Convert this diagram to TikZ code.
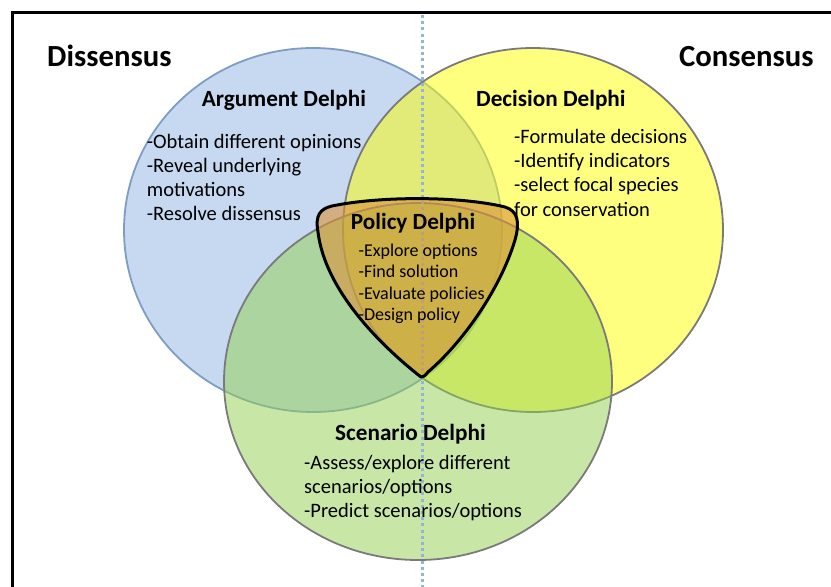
\documentclass[tikz,border=0pt]{standalone}
\usepackage{fontspec}
\setmainfont{Carlito}
\definecolor{cblue}{HTML}{8DB3E2}
\definecolor{cbluedraw}{HTML}{7E9CC6}
\definecolor{cyel}{HTML}{FFFF00}
\definecolor{cgreen}{HTML}{92D050}
\definecolor{cgray}{HTML}{7A7A7A}
\definecolor{cpol}{HTML}{DC9238}
\definecolor{cdot}{HTML}{95B3D7}
\tikzset{
  title/.style={font=\fontsize{30.7}{36}\selectfont\bfseries, anchor=base west, inner sep=0pt},
  head/.style={font=\fontsize{23.2}{28}\selectfont\bfseries, anchor=base west, inner sep=0pt},
  body/.style={font=\fontsize{20.5}{24.5}\selectfont, anchor=base west, inner sep=0pt},
  pbody/.style={font=\fontsize{18}{21.5}\selectfont, anchor=base west, inner sep=0pt},
  venn/.style={fill opacity=0.5, line width=1.8pt},
}
\begin{document}
\begin{tikzpicture}[x=1pt,y=-1pt]
\useasboundingbox (0,0) rectangle (831,587);
% circles
\path[venn, fill=cblue, draw=cbluedraw] (313,230) ellipse [x radius=189pt, y radius=182pt];
\path[venn, fill=cyel, draw=cgray] (533,230) ellipse [x radius=190pt, y radius=182pt];
\path[venn, fill=cgreen, draw=cgray] (418,381.5) ellipse [x radius=194pt, y radius=178.5pt];
% dotted divider
\coordinate (dtop) at (422,15);
\coordinate (dbot) at (422,587);
\draw[cdot, line width=3pt, dash pattern=on 3pt off 3.2pt] (dtop) -- (dbot);
% policy shape
\path[fill=cpol, fill opacity=0.6, draw=black, line width=3pt, line join=round]
  (421,377) .. controls (380,345) and (325,290) .. (318,232)
  .. controls (315,215) and (320,209) .. (332,206)
  .. controls (380,196) and (460,196) .. (505,207)
  .. controls (518,211) and (520,222) .. (515,240)
  .. controls (500,290) and (462,343) .. (428,372)
  .. controls (425,376) and (423,377) .. cycle;
% texts
\node[title] (diss) at (47,66.7) {Dissensus};
\node[title] (cons) at (679,66.7) {Consensus};
\node[head] (argh) at (201.7,106) {Argument Delphi};
\node[body] (a1) at (146.7,148.3) {-Obtain different opinions};
\node[body] (a2) at (146.7,172.5) {-Reveal underlying};
\node[body] (a3) at (146.7,196.7) {motivations};
\node[body] (a4) at (146.7,220.9) {-Resolve dissensus};
\node[head] (dech) at (476,106) {Decision Delphi};
\node[body] (d1) at (514,143.3) {-Formulate decisions};
\node[body] (d2) at (514,167.6) {-Identify indicators};
\node[body] (d3) at (514,191.9) {-select focal species};
\node[body] (d4) at (514,216.2) {for conservation};
\node[head] (polh) at (350.7,229.3) {Policy Delphi};
\node[pbody] (p1) at (358.3,256) {-Explore options};
\node[pbody] (p2) at (358.3,277.5) {-Find solution};
\node[pbody] (p3) at (358.3,299) {-Evaluate policies};
\node[pbody] (p4) at (358.3,320.5) {-Design policy};
\node[head] (scenh) at (335,440.7) {Scenario Delphi};
\node[body] (s1) at (304,469.3) {-Assess/explore different};
\node[body] (s2) at (304,493.3) {scenarios/options};
\node[body] (s3) at (304,517.3) {-Predict scenarios/options};
% frame
\coordinate (fbl) at (12.5,587);
\coordinate (ftl) at (12.5,12.5);
\coordinate (ftr) at (831,12.5);
\draw[black, line width=3pt] (fbl) -- (ftl) -- (ftr);
\end{tikzpicture}
\end{document}
